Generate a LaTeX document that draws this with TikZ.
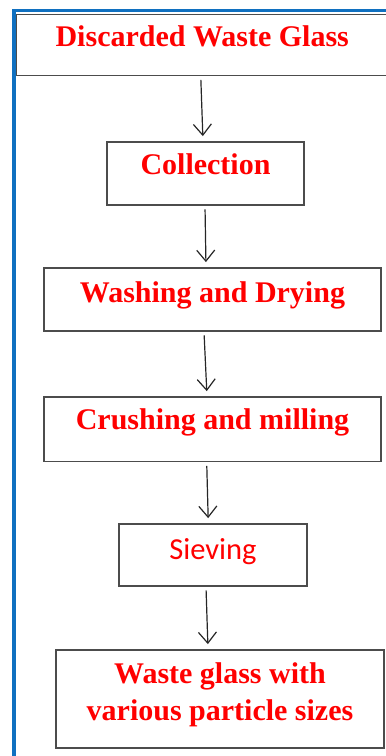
\documentclass[tikz,border=0pt]{standalone}
\usepackage{fontspec}
\setmainfont{Liberation Serif}
\newfontfamily\sievefont{Carlito}
\usetikzlibrary{arrows.meta}
\definecolor{framebl}{RGB}{16,112,192}
\definecolor{steptxt}{RGB}{255,0,0}
\tikzset{
    stage/.style={draw=black!70, line width=1.8pt, rectangle, inner xsep=0pt, inner ysep=0pt,
        text=steptxt, font=\fontsize{30}{37}\selectfont\bfseries},
    flow/.style={line width=1.2pt, draw=black!85, -{Straight Barb[length=11pt,width=18pt]},
        shorten <=3.5pt, shorten >=5pt}
}
\begin{document}
\begin{tikzpicture}[x=1pt,y=-1pt]
    \clip (0,0) rectangle (386,756);
    % frame
    \draw[framebl, line width=3.5pt] (14,780) -- (14,10.5) -- (400,10.5);
    % stages
    \node[stage, minimum width=371.5pt, text height=31.5pt, text depth=29.5pt] (waste) at (202.25,45) {Discarded Waste Glass};
    \node[stage, minimum width=197pt, text height=32pt, text depth=31pt] (collect) at (205.5,173.5) {Collection};
    \node[stage, minimum width=337pt, text height=34pt, text depth=29pt] (wash) at (212.5,299.5) {Washing and Drying};
    \node[stage, minimum width=337pt, text height=32pt, text depth=32.5pt] (crush) at (212.5,429.25) {Crushing and milling};
    \node[stage, minimum width=188pt, text height=35pt, text depth=27pt, font=\sievefont\fontsize{30.5}{37}\selectfont] (sieve) at (213,555) {Sieving};
    \node[stage, minimum width=328pt, align=center, text height=70pt, text depth=28pt] (result) at (220,699) {Waste glass with\\various particle sizes};
    % arrows
    \draw[flow] ([xshift=-1.5pt]waste.south) -- ([xshift=-2.5pt]collect.north);
    \draw[flow] ([xshift=-0.5pt]collect.south) -- ([xshift=-6.5pt]wash.north);
    \draw[flow] ([xshift=-8.5pt]wash.south) -- ([xshift=-5.5pt]crush.north);
    \draw[flow] ([xshift=-5.8pt]crush.south) -- ([xshift=-4.7pt]sieve.north);
    \draw[flow] ([xshift=-7pt]sieve.south) -- ([xshift=-12pt]result.north);
\end{tikzpicture}
\end{document}
